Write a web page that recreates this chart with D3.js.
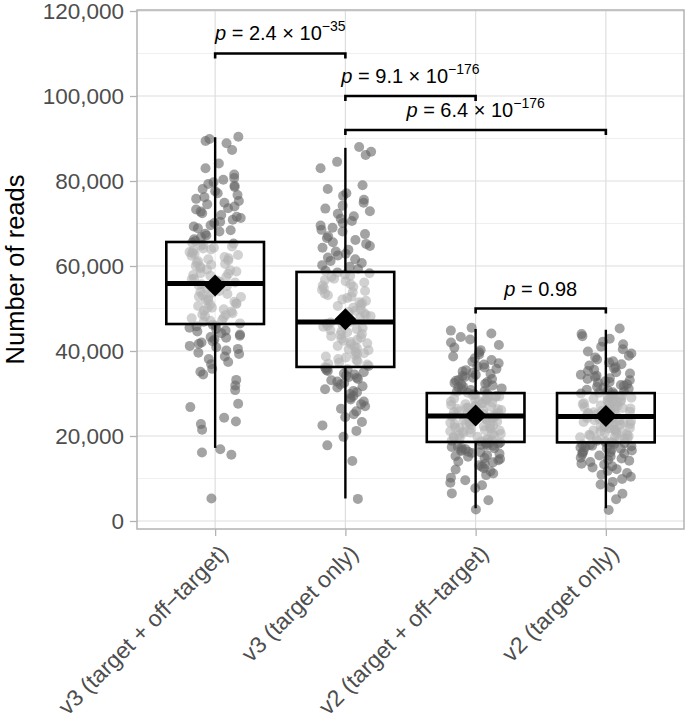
<!DOCTYPE html>
<html>
<head>
<meta charset="utf-8">
<script src="https://cdn.jsdelivr.net/npm/d3@7"></script>
<style>
  html, body { margin: 0; padding: 0; background: #ffffff; }
  svg { display: block; font-family: "Liberation Sans", Arial, Helvetica, sans-serif; }
</style>
</head>
<body>
<svg id="chart" width="685" height="723"></svg>
<script>
// ---------------- DATA ----------------
const categories = [
  "v3 (target + off\u2212target)",
  "v3 (target only)",
  "v2 (target + off\u2212target)",
  "v2 (target only)"
];

const yTicks = [0, 20000, 40000, 60000, 80000, 100000, 120000];
const yMinorTicks = [10000, 30000, 50000, 70000, 90000, 110000];

// box statistics
const boxQ1 = [46350, 36250, 18600, 18500];
const boxMedian = [55900, 46800, 24700, 24600];
const boxQ3 = [65650, 58600, 30100, 30100];
const whiskerLow = [17200, 5300, 3000, 3000];
const whiskerHigh = [90300, 87800, 45200, 45000];
const groupMean = [55400, 47500, 24800, 24700];

// individual read counts (estimated from the jittered points)
const readsV3All = [
  5300, 15600, 16100, 16900, 21500, 22800, 23400, 24300, 26800, 27600, 30800, 31900, 33200, 34500,
  35100, 35800, 36900, 37400, 38100, 38700, 39300, 39600, 40100, 40500, 40900, 41200, 41700, 42000,
  42300, 42700, 43100, 43300, 43600, 43900, 44200, 44600, 44800, 45200, 45500, 45800, 46000, 46200,
  46500, 46900, 47100, 47300, 47700, 47900, 48200, 48500, 48600, 48900, 49300, 49500, 49800, 50100,
  50200, 50600, 50900, 51100, 51200, 51600, 51900, 52000, 52400, 52700, 52800, 53200, 53400, 53700,
  53900, 54100, 54500, 54700, 54800, 55100, 55300, 55500, 55700, 55800,
  56100, 56300, 56600, 56900, 57000, 57400, 57700, 57900, 58200, 58300, 58700, 59000, 59200, 59500,
  59800, 60000, 60300, 60500, 60800, 61100, 61300, 61600, 61800, 62100, 62400, 62600, 62800, 63100,
  63300, 63600, 63900, 64100, 64300, 64600, 64800, 65000, 65300, 65500,
  65900, 66300, 66800, 67200, 67600, 68100, 68400, 68900, 69300, 69600, 70100, 70400, 70900, 71300,
  71600, 72000, 72400, 72800, 73300, 73600, 74000, 74500, 74900, 75300, 75800, 76200, 76700, 77100,
  77600, 78100, 78600, 78900, 79300, 79700, 80300, 80700, 81500, 83000, 84100, 87300, 88900, 89400,
  89900, 90400
];

const readsV3Target = [
  5200, 14100, 17800, 19800, 21200, 22500, 23300, 24400, 25100, 25800, 26400, 27000, 27500, 28100,
  28600, 29000, 29400, 29900, 30300, 30600, 31000, 31400, 31700, 32100, 32500, 32800, 33100, 33400,
  33700, 33900, 34200, 34500, 34700, 35000, 35300, 35500, 35700, 35900, 36000, 36200,
  36500, 36800, 37000, 37300, 37600, 37900, 38100, 38500, 38700, 39000, 39300, 39500, 39800, 40200,
  40400, 40700, 41000, 41200, 41600, 41800, 42100, 42400, 42700, 42900, 43200, 43500, 43800, 44000,
  44400, 44600, 44900, 45100, 45400, 45700, 45900, 46200, 46400, 46700,
  46900, 47200, 47600, 47900, 48200, 48500, 48900, 49200, 49500, 49900, 50200, 50600, 50800, 51200,
  51500, 51800, 52100, 52500, 52800, 53100, 53500, 53800, 54100, 54400, 54800, 55100, 55400, 55700,
  56100, 56400, 56700, 57000, 57400, 57700, 58000, 58300, 58500,
  58900, 59300, 59800, 60200, 60700, 61200, 61600, 62000, 62500, 62900, 63400, 63800, 64300, 64700,
  65200, 65600, 66100, 66600, 67000, 67500, 68100, 68500, 69000, 69500, 70100, 70600, 71100, 71700,
  72300, 72900, 73500, 74200, 74900, 75600, 76500, 77100, 78100, 79000, 83000, 84500, 86100, 86900,
  88000
];

const readsV2All = [
  2700, 4900, 6500, 7700, 8400, 9000, 9600, 10200, 10800, 11200, 11700, 12100, 12400, 12800, 13100,
  13400, 13800, 14000, 14300, 14600, 14800, 15100, 15300, 15500, 15800, 16000, 16200, 16300, 16500,
  16700, 16900, 17100, 17200, 17400, 17500, 17700, 17800, 17900, 18100, 18200, 18300, 18400, 18500,
  18700, 18900, 19000, 19200, 19300, 19500, 19600, 19800, 19900, 20100, 20200, 20400, 20500, 20700,
  20800, 21000, 21100, 21300, 21400, 21600, 21700, 21900, 22000, 22200, 22300, 22500, 22600, 22800,
  22900, 23100, 23200, 23400, 23500, 23700, 23800, 24000, 24100, 24300, 24400, 24600,
  24800, 24900, 25100, 25200, 25400, 25500, 25700, 25800, 26000, 26100, 26300, 26400, 26600, 26700,
  26900, 27000, 27200, 27300, 27500, 27600, 27800, 27900, 28100, 28200, 28400, 28500, 28700, 28800,
  29000, 29100, 29300, 29400, 29600, 29700, 29900, 30000,
  30200, 30400, 30600, 30800, 31000, 31200, 31400, 31600, 31900, 32100, 32300, 32500, 32700, 33000,
  33200, 33400, 33700, 33900, 34100, 34400, 34600, 34900, 35200, 35500, 35800, 36100, 36400, 36800,
  37100, 37500, 37900, 38300, 38700, 39200, 39700, 40200, 40800, 41400, 42000, 42700, 43300, 44100,
  44800, 45500
];

const readsV2Target = [
  2600, 5100, 6400, 7900, 8600, 9200, 9900, 10400, 10900, 11300, 11800, 12200, 12600, 12900, 13300,
  13500, 13900, 14200, 14400, 14700, 14900, 15200, 15400, 15700, 15900, 16100, 16200, 16400, 16600,
  16800, 17000, 17100, 17300, 17400, 17600, 17700, 17900, 18000, 18100, 18300, 18400, 18500,
  18600, 18800, 18900, 19100, 19200, 19400, 19500, 19700, 19800, 20000, 20100, 20300, 20400, 20600,
  20700, 20900, 21000, 21200, 21300, 21500, 21600, 21800, 21900, 22100, 22200, 22400, 22500, 22700,
  22800, 23000, 23100, 23300, 23400, 23600, 23700, 23900, 24000, 24200, 24300, 24500,
  24700, 24800, 25000, 25100, 25300, 25400, 25600, 25700, 25900, 26000, 26200, 26300, 26500, 26600,
  26800, 26900, 27100, 27200, 27400, 27500, 27700, 27800, 28000, 28100, 28300, 28400, 28600, 28700,
  28900, 29000, 29200, 29300, 29500, 29600, 29800, 30000,
  30200, 30300, 30500, 30700, 30900, 31100, 31400, 31600, 31800, 32000, 32200, 32500, 32700, 32900,
  33100, 33400, 33600, 33900, 34200, 34400, 34700, 35000, 35300, 35600, 35900, 36200, 36600, 36900,
  37300, 37600, 38000, 38500, 38900, 39400, 39900, 40400, 41000, 41600, 42200, 42900, 43500, 44000,
  45300
];

const groupReads = [readsV3All, readsV3Target, readsV2All, readsV2Target];

// significance brackets
const bracketFrom = [0, 1, 1, 2];
const bracketTo = [1, 2, 3, 3];
const bracketY = [110000, 100000, 92000, 50000];
const pMantissa = ["2.4", "9.1", "6.4", "0.98"];
const pExponent = ["\u221235", "\u2212176", "\u2212176", null];

// ---------------- LAYOUT ----------------
const W = 685, H = 723;
const panel = { left: 137, right: 684, top: 10, bottom: 529 };

const svg = d3.select("#chart");

const x = d3.scalePoint()
  .domain(d3.range(categories.length))
  .range([panel.left, panel.right])
  .padding(0.6);
const step = x.step();

const y = d3.scaleLinear()
  .domain([-1882, 120235])
  .range([panel.bottom, panel.top]);

// grid
const grid = svg.append("g");
grid.selectAll("line.minor").data(yMinorTicks).join("line")
  .attr("x1", panel.left).attr("x2", panel.right)
  .attr("y1", d => y(d)).attr("y2", d => y(d))
  .attr("stroke", "#ececec").attr("stroke-width", 0.8);
grid.selectAll("line.major").data(yTicks).join("line")
  .attr("x1", panel.left).attr("x2", panel.right)
  .attr("y1", d => y(d)).attr("y2", d => y(d))
  .attr("stroke", "#dedede").attr("stroke-width", 1.2);
grid.selectAll("line.vmajor").data(d3.range(categories.length)).join("line")
  .attr("x1", d => x(d)).attr("x2", d => x(d))
  .attr("y1", panel.top).attr("y2", panel.bottom)
  .attr("stroke", "#dedede").attr("stroke-width", 1.2);

// jittered points
const jitter = d3.randomUniform.source(d3.randomLcg(0.4217))(-0.2, 0.2);
const pts = [];
groupReads.forEach((arr, gi) => arr.forEach(v => pts.push({ g: gi, v: v, j: jitter() })));
svg.append("g").selectAll("circle").data(pts).join("circle")
  .attr("cx", d => x(d.g) + d.j * step)
  .attr("cy", d => y(d.v))
  .attr("r", 5)
  .attr("fill", "#666666")
  .attr("fill-opacity", 0.6);

// boxplots
const boxW = 0.75 * step;
const boxes = svg.append("g");
categories.forEach((c, i) => {
  const cx = x(i);
  boxes.append("line")
    .attr("x1", cx).attr("x2", cx)
    .attr("y1", y(whiskerHigh[i])).attr("y2", y(boxQ3[i]))
    .attr("stroke", "#000").attr("stroke-width", 2.4);
  boxes.append("line")
    .attr("x1", cx).attr("x2", cx)
    .attr("y1", y(boxQ1[i])).attr("y2", y(whiskerLow[i]))
    .attr("stroke", "#000").attr("stroke-width", 2.4);
  boxes.append("rect")
    .attr("x", cx - boxW / 2).attr("width", boxW)
    .attr("y", y(boxQ3[i])).attr("height", y(boxQ1[i]) - y(boxQ3[i]))
    .attr("fill", "#ffffff").attr("fill-opacity", 0.5)
    .attr("stroke", "#000").attr("stroke-width", 2.6);
  boxes.append("line")
    .attr("x1", cx - boxW / 2).attr("x2", cx + boxW / 2)
    .attr("y1", y(boxMedian[i])).attr("y2", y(boxMedian[i]))
    .attr("stroke", "#000").attr("stroke-width", 5);
  const my = y(groupMean[i]), r = 11;
  boxes.append("path")
    .attr("d", `M${cx},${my - r}L${cx + r},${my}L${cx},${my + r}L${cx - r},${my}Z`)
    .attr("fill", "#000");
});

// significance brackets
const br = svg.append("g");
bracketFrom.forEach((f, k) => {
  const x1 = x(f), x2 = x(bracketTo[k]), yy = y(bracketY[k]);
  br.append("path")
    .attr("d", `M${x1},${yy + 5}V${yy}H${x2}V${yy + 5}`)
    .attr("fill", "none").attr("stroke", "#000").attr("stroke-width", 2.6);
  const t = br.append("text")
    .attr("x", (x1 + x2) / 2).attr("y", yy - 13)
    .attr("text-anchor", "middle")
    .attr("font-size", 20).attr("fill", "#000");
  t.append("tspan").attr("font-style", "italic").text("p");
  t.append("tspan").text(" = " + pMantissa[k] + (pExponent[k] ? " \u00d7 10" : ""));
  if (pExponent[k]) {
    t.append("tspan").attr("dy", -9).attr("font-size", 14).text(pExponent[k]);
  }
});

// panel border
svg.append("rect")
  .attr("x", panel.left).attr("y", panel.top)
  .attr("width", panel.right - panel.left).attr("height", panel.bottom - panel.top)
  .attr("fill", "none").attr("stroke", "#b3b3b3").attr("stroke-width", 1.5);

// y axis
const yAxis = svg.append("g")
  .attr("transform", `translate(${panel.left},0)`)
  .call(d3.axisLeft(y).tickValues(yTicks).tickSize(7).tickPadding(6).tickFormat(d3.format(",")));
yAxis.select(".domain").remove();
yAxis.selectAll(".tick line").attr("stroke", "#b3b3b3").attr("stroke-width", 1.3);
yAxis.selectAll(".tick text")
  .attr("fill", "#4d4d4d").attr("font-size", 22.5)
  .attr("font-family", "Liberation Sans, Arial, sans-serif");

// x axis
const xAxis = svg.append("g")
  .attr("transform", `translate(0,${panel.bottom})`)
  .call(d3.axisBottom(x).tickSize(7).tickFormat(i => categories[i]));
xAxis.select(".domain").remove();
xAxis.selectAll(".tick line").attr("stroke", "#b3b3b3").attr("stroke-width", 1.3);
xAxis.selectAll(".tick text")
  .attr("fill", "#4d4d4d").attr("font-size", 23)
  .attr("font-family", "Liberation Sans, Arial, sans-serif")
  .attr("text-anchor", "end")
  .attr("x", 0).attr("y", 0).attr("dy", "0.72em")
  .attr("transform", "translate(2,14) rotate(-45)");

// y title
svg.append("text")
  .attr("transform", `translate(24,${(panel.top + panel.bottom) / 2}) rotate(-90)`)
  .attr("text-anchor", "middle")
  .attr("font-size", 25.5).attr("fill", "#000")
  .text("Number of reads");
</script>
</body>
</html>
